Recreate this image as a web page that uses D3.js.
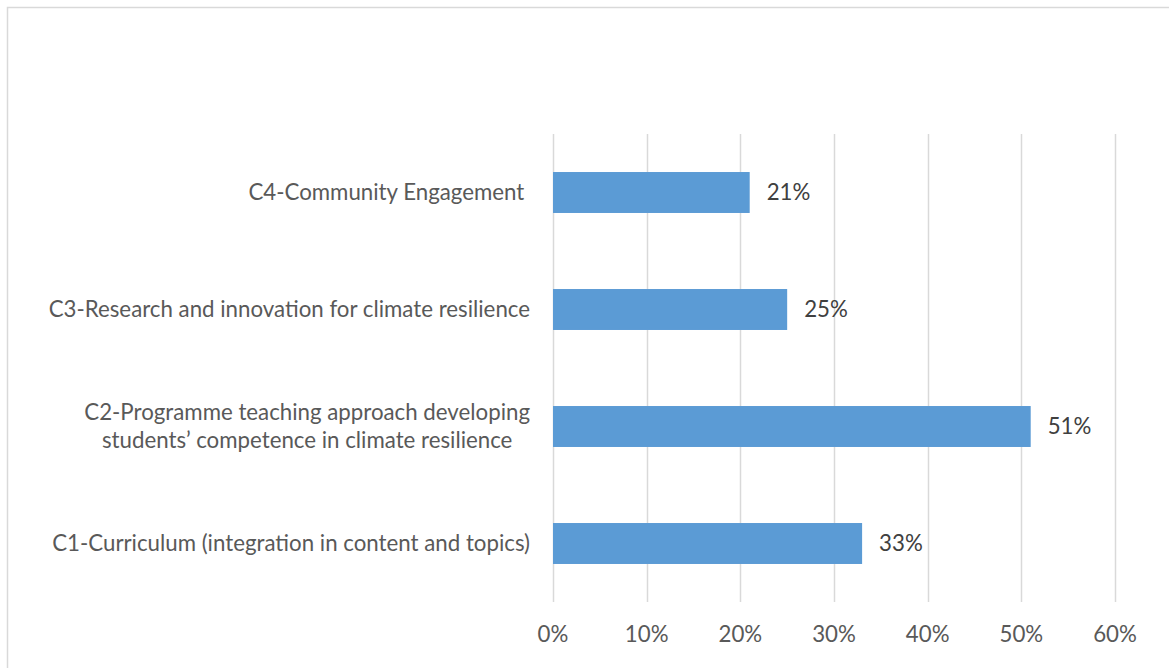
<!DOCTYPE html>
<html>
<head>
<meta charset="utf-8">
<script src="https://cdn.jsdelivr.net/npm/d3@7"></script>
<style>
  body { margin: 0; background: #fff; }
  text { font-family: Lato, "Open Sans", sans-serif; }
</style>
</head>
<body>
<script>
var width = 1169, height = 668;

// data
var categories = [
  ["C4-Community Engagement "],
  ["C3-Research and innovation for climate resilience"],
  ["C2-Programme teaching approach developing", "students\u2019 competence in climate resilience"],
  ["C1-Curriculum (integration in content and topics)"]
];
var values = [0.21, 0.25, 0.51, 0.33];
var ticks = [0, 0.1, 0.2, 0.3, 0.4, 0.5, 0.6];

var margin = {left: 553, right: 54, top: 134, bottom: 66};

var svg = d3.select("body").append("svg")
    .attr("width", width)
    .attr("height", height);

// chart area border (only top and left are inside the picture)
svg.append("rect")
    .attr("x", 7.5).attr("y", 7.5)
    .attr("width", width + 20).attr("height", height + 20)
    .attr("fill", "#fff")
    .attr("stroke", "#d9d9d9")
    .attr("stroke-width", 1.5);

var x = d3.scaleLinear()
    .domain([0, 0.6])
    .range([margin.left, width - margin.right]);

var y = d3.scaleBand()
    .domain(d3.range(categories.length))
    .range([margin.top, height - margin.bottom])
    .paddingInner(0.65)
    .paddingOuter(0.325);

// fit font size so the widest label matches the picture
var probe = svg.append("text").attr("font-size", 20).text(categories[3][0]);
var fs = 20 * 478 / probe.node().getComputedTextLength();
probe.remove();

// gridlines
svg.append("g").selectAll("line")
    .data(ticks)
    .enter().append("line")
    .attr("x1", function(d){ return Math.round(x(d)) + 0.5; })
    .attr("x2", function(d){ return Math.round(x(d)) + 0.5; })
    .attr("y1", margin.top)
    .attr("y2", height - margin.bottom)
    .attr("stroke", "#d9d9d9")
    .attr("stroke-width", 1.5);

// tick labels
svg.append("g").selectAll("text")
    .data(ticks)
    .enter().append("text")
    .attr("x", function(d){ return x(d); })
    .attr("y", 634)
    .attr("dy", "0.35em")
    .attr("text-anchor", "middle")
    .attr("font-size", fs)
    .attr("fill", "#595959")
    .text(d3.format(".0%"));

// bars
svg.append("g").selectAll("rect")
    .data(values)
    .enter().append("rect")
    .attr("x", x(0))
    .attr("y", function(d, i){ return y(i); })
    .attr("width", function(d){ return x(d) - x(0); })
    .attr("height", y.bandwidth())
    .attr("fill", "#5b9bd5");

// value labels
svg.append("g").selectAll("text")
    .data(values)
    .enter().append("text")
    .attr("x", function(d){ return x(d) + 17; })
    .attr("y", function(d, i){ return y(i) + y.bandwidth() / 2; })
    .attr("dy", "0.35em")
    .attr("font-size", fs)
    .attr("fill", "#404040")
    .text(d3.format(".0%"));

// category labels, block right aligned, lines centred on each other
var labelRight = margin.left - 23;
var lineH = 28;
categories.forEach(function(lines, i) {
    var g = svg.append("g");
    var cy = y(i) + y.bandwidth() / 2;
    var t = g.selectAll("text")
        .data(lines)
        .enter().append("text")
        .attr("font-size", fs)
        .attr("fill", "#595959")
        .attr("text-anchor", "middle")
        .style("white-space", "pre")
        .attr("dy", "0.35em")
        .attr("y", function(d, j){ return cy + (j - (lines.length - 1) / 2) * lineH; })
        .text(function(d){ return d; });
    var w = d3.max(t.nodes(), function(n){ return n.getComputedTextLength(); });
    t.attr("x", labelRight - w / 2);
});
</script>
</body>
</html>
